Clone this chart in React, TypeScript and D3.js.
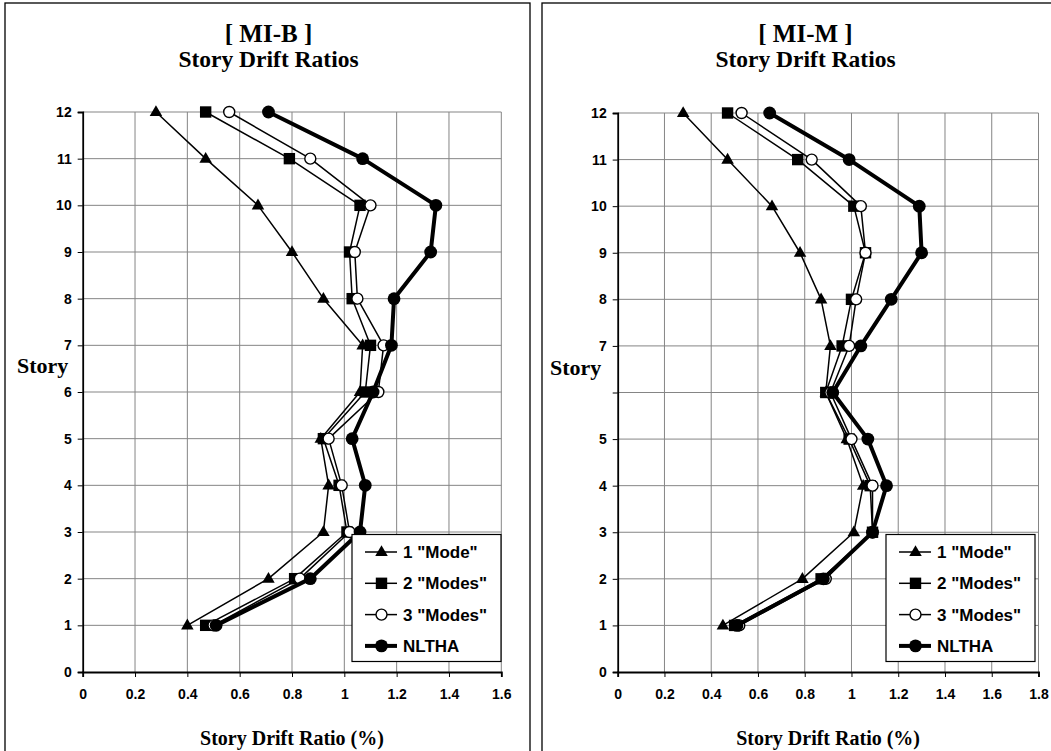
import { useEffect, useRef } from "react";
import * as d3 from "d3";

// story levels (bottom to top) and axis ticks
const stories = [1, 2, 3, 4, 5, 6, 7, 8, 9, 10, 11, 12];
const yTicks = [0, 1, 2, 3, 4, 5, 6, 7, 8, 9, 10, 11, 12];
const xTicksB = [0, 0.2, 0.4, 0.6, 0.8, 1, 1.2, 1.4, 1.6];
const xTicksM = [0, 0.2, 0.4, 0.6, 0.8, 1, 1.2, 1.4, 1.6, 1.8];
const seriesNames = ['1 "Mode"', '2 "Modes"', '3 "Modes"', "NLTHA"];

// [ MI-B ] drift ratios (%), story 1..12
const mode1B = [0.4, 0.71, 0.92, 0.94, 0.91, 1.06, 1.07, 0.92, 0.8, 0.67, 0.47, 0.28];
const modes2B = [0.47, 0.81, 1.01, 0.98, 0.92, 1.08, 1.1, 1.03, 1.02, 1.06, 0.79, 0.47];
const modes3B = [0.5, 0.83, 1.02, 0.99, 0.94, 1.13, 1.15, 1.05, 1.04, 1.1, 0.87, 0.56];
const nlthaB = [0.51, 0.87, 1.06, 1.08, 1.03, 1.11, 1.18, 1.19, 1.33, 1.35, 1.07, 0.71];

// [ MI-M ] drift ratios (%), story 1..12
const mode1M = [0.45, 0.79, 1.01, 1.05, 0.98, 0.89, 0.91, 0.87, 0.78, 0.66, 0.47, 0.28];
const modes2M = [0.5, 0.87, 1.09, 1.08, 0.99, 0.89, 0.96, 1.0, 1.06, 1.01, 0.77, 0.47];
const modes3M = [0.52, 0.89, 1.09, 1.09, 1.0, 0.91, 0.99, 1.02, 1.06, 1.04, 0.83, 0.53];
const nlthaM = [0.51, 0.88, 1.09, 1.15, 1.07, 0.92, 1.04, 1.17, 1.3, 1.29, 0.99, 0.65];

const SANS = "'Liberation Sans', Arial, sans-serif";
const SERIF = "'Liberation Serif', 'Times New Roman', serif";

const panels = [
  {
    title: "[ MI-B ]",
    frame: { x: 5, y: 3, w: 525, h: 770 },
    plot: { left: 82.7, right: 501.3, top: 112, bottom: 672 },
    xTicks: xTicksB,
    series: [mode1B, modes2B, modes3B, nlthaB],
    storyX: 17,
    storyY: 373,
    hideLabel: [],
    legendX: 352,
  },
  {
    title: "[ MI-M ]",
    frame: { x: 542, y: 3, w: 525, h: 770 },
    plot: { left: 617.7, right: 1038.5, top: 113, bottom: 672 },
    xTicks: xTicksM,
    series: [mode1M, modes2M, modes3M, nlthaM],
    storyX: 550,
    storyY: 375,
    hideLabel: [6],
    legendX: 886,
  },
];

// marker per series
function drawMarker(g, i, cx, cy) {
  if (i === 0) {
    g.append("path")
      .attr("d", d3.symbol(d3.symbolTriangle, 68)())
      .attr("transform", `translate(${cx},${cy + 0.5})`)
      .attr("fill", "#000");
  } else if (i === 1) {
    g.append("path")
      .attr("d", d3.symbol(d3.symbolSquare, 130)())
      .attr("transform", `translate(${cx},${cy})`)
      .attr("fill", "#000");
  } else if (i === 2) {
    g.append("circle").attr("cx", cx).attr("cy", cy).attr("r", 5.5)
      .attr("fill", "#fff").attr("stroke", "#000").attr("stroke-width", 1.4);
  } else {
    g.append("circle").attr("cx", cx).attr("cy", cy).attr("r", 6.4).attr("fill", "#000");
  }
}

export default function App() {
  const svgRef = useRef(null);

  useEffect(() => {
    const svg = d3.select(svgRef.current);
    svg.selectAll("*").remove();

    panels.forEach((p) => {
      const g = svg.append("g");
      const { left, right, top, bottom } = p.plot;
      const xMax = p.xTicks[p.xTicks.length - 1];
      const x = d3.scaleLinear().domain([0, xMax]).range([left, right]);
      const y = d3.scaleLinear().domain([0, 12]).range([bottom, top]);

      // panel frame
      g.append("rect")
        .attr("x", p.frame.x).attr("y", p.frame.y)
        .attr("width", p.frame.w).attr("height", p.frame.h)
        .attr("fill", "none").attr("stroke", "#000").attr("stroke-width", 1.3);

      // titles
      const cx = p.frame.x + p.frame.w / 2 + 1;
      g.append("text").attr("x", cx).attr("y", 42).attr("text-anchor", "middle")
        .attr("font-family", SERIF).attr("font-weight", 700).attr("font-size", 25)
        .text(p.title);
      g.append("text").attr("x", cx).attr("y", 67).attr("text-anchor", "middle")
        .attr("font-family", SERIF).attr("font-weight", 700).attr("font-size", 23.5)
        .text("Story Drift Ratios");

      // grid
      g.append("g")
        .selectAll("line")
        .data(p.xTicks.slice(1))
        .join("line")
        .attr("x1", (d) => x(d)).attr("x2", (d) => x(d))
        .attr("y1", top).attr("y2", bottom)
        .attr("stroke", "#858585").attr("stroke-width", 1);
      g.append("g")
        .selectAll("line")
        .data(yTicks.slice(1))
        .join("line")
        .attr("x1", left).attr("x2", right)
        .attr("y1", (d) => y(d)).attr("y2", (d) => y(d))
        .attr("stroke", "#858585").attr("stroke-width", 1);

      // y axis
      g.append("g")
        .attr("transform", `translate(${left},0)`)
        .call(d3.axisLeft(y).tickValues(yTicks).tickSize(5).tickPadding(6)
          .tickFormat((d) => (p.hideLabel.includes(d) ? "" : String(d))))
        .call((a) => a.select(".domain").attr("stroke-width", 1.8))
        .call((a) => a.selectAll("text").attr("font-family", SANS).attr("font-weight", 700)
          .attr("font-size", 14).attr("fill", "#000"));

      // x axis
      g.append("g")
        .attr("transform", `translate(0,${bottom})`)
        .call(d3.axisBottom(x).tickValues(p.xTicks).tickSize(5).tickPadding(12)
          .tickFormat((d) => String(+d.toFixed(1))))
        .call((a) => a.select(".domain").attr("stroke-width", 1.8))
        .call((a) => a.selectAll("text").attr("font-family", SANS).attr("font-weight", 700)
          .attr("font-size", 14).attr("fill", "#000"));

      // axis titles
      g.append("text").attr("x", (left + right) / 2).attr("y", 745).attr("text-anchor", "middle")
        .attr("font-family", SERIF).attr("font-weight", 700).attr("font-size", 20)
        .text("Story Drift Ratio (%)");
      g.append("text").attr("x", p.storyX).attr("y", p.storyY)
        .attr("font-family", SERIF).attr("font-weight", 700).attr("font-size", 22)
        .text("Story");

      // series
      const line = d3.line().x((d) => x(d[0])).y((d) => y(d[1]));
      p.series.forEach((vals, i) => {
        const pts = vals.map((v, k) => [v, stories[k]]);
        const sg = g.append("g");
        sg.append("path").attr("d", line(pts)).attr("fill", "none")
          .attr("stroke", "#000").attr("stroke-width", i === 3 ? 4 : 1.5)
          .attr("stroke-linejoin", "round");
        pts.forEach((pt) => drawMarker(sg, i, x(pt[0]), y(pt[1])));
      });

      // legend
      const lx = p.legendX;
      const lg = g.append("g");
      lg.append("rect").attr("x", lx).attr("y", 534.5).attr("width", 149).attr("height", 127)
        .attr("fill", "#fff").attr("stroke", "#000").attr("stroke-width", 1.2);
      seriesNames.forEach((name, i) => {
        const ly = 552 + i * 31.3;
        lg.append("line").attr("x1", lx + 13).attr("x2", lx + 45).attr("y1", ly).attr("y2", ly)
          .attr("stroke", "#000").attr("stroke-width", i === 3 ? 4 : 1.5);
        drawMarker(lg, i, lx + 29.5, ly);
        lg.append("text").attr("x", lx + 51).attr("y", ly + 6)
          .attr("font-family", SANS).attr("font-weight", 700).attr("font-size", 17)
          .text(name);
      });
    });
  }, []);

  return (
    <div style={{ position: "absolute", left: 0, top: 0 }}>
      <svg ref={svgRef} width={1051} height={751} style={{ display: "block", background: "#fff" }} />
    </div>
  );
}
